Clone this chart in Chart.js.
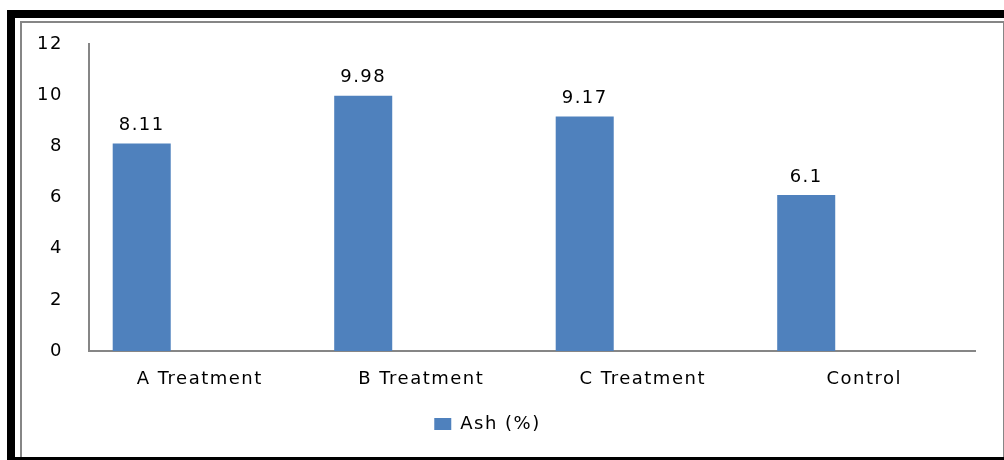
<!DOCTYPE html>
<html>
<head>
<meta charset="utf-8">
<script src="https://cdn.jsdelivr.net/npm/chart.js@4/dist/chart.umd.min.js"></script>
<style>
  html, body { margin: 0; padding: 0; background: #fff; }
  #wrap { width: 1004px; height: 460px; position: relative; }
</style>
</head>
<body>
<div id="wrap"><canvas id="grafica" width="1004" height="460"></canvas></div>
<script>
// datos
const categorias = ['A Treatment', 'B Treatment', 'C Treatment', 'Control'];
const ceniza = [8.11, 9.98, 9.17, 6.1];
const vacia1 = [null, null, null, null];
const vacia2 = [null, null, null, null];
const marcasY = [0, 2, 4, 6, 8, 10, 12];

const azul = '#4F81BD';
const gris = '#868686';
const fuente = { family: 'DejaVu Sans', size: 18 };

function espaciado(chart) {
  chart.ctx.letterSpacing = '1.5px';
}

// marco negro y gris alrededor
const marco = {
  id: 'marco',
  beforeUpdate: espaciado,
  beforeLayout: espaciado,
  beforeDraw(chart) {
    espaciado(chart);
    const ctx = chart.ctx;
    ctx.save();
    ctx.fillStyle = '#000';
    ctx.fillRect(7, 10, 997, 8);
    ctx.fillRect(7, 10, 8, 450);
    ctx.fillRect(7, 457, 997, 3);
    ctx.fillStyle = gris;
    ctx.fillRect(20, 21, 984, 2);
    ctx.fillRect(20, 21, 2, 436);
    ctx.fillRect(1003, 21, 1, 436);
    ctx.restore();
  }
};

// etiquetas encima de cada barra
const etiquetas = {
  id: 'etiquetas',
  afterDatasetsDraw(chart) {
    const ctx = chart.ctx;
    const meta = chart.getDatasetMeta(0);
    ctx.save();
    ctx.font = '18px "DejaVu Sans"';
    ctx.fillStyle = '#000';
    ctx.textAlign = 'center';
    ctx.textBaseline = 'middle';
    meta.data.forEach((bar, i) => {
      ctx.fillText(String(ceniza[i]), bar.x, bar.y - 18);
    });
    ctx.restore();
  }
};

new Chart(document.getElementById('grafica').getContext('2d'), {
  type: 'bar',
  data: {
    labels: categorias,
    datasets: [
      { label: 'Ash (%)', data: ceniza, backgroundColor: azul },
      { label: '', data: vacia1, backgroundColor: 'transparent' },
      { label: '', data: vacia2, backgroundColor: 'transparent' }
    ]
  },
  options: {
    responsive: false,
    animation: false,
    events: [],
    layout: { padding: { top: 44, right: 29, bottom: 17, left: 0 } },
    datasets: { bar: { categoryPercentage: 0.786, barPercentage: 1 } },
    scales: {
      x: {
        grid: { display: false, drawTicks: false },
        border: { display: true, color: gris, width: 2 },
        ticks: { font: fuente, color: '#000', padding: 18, maxRotation: 0 },
        afterFit(scale) { scale.height = 50; }
      },
      y: {
        min: 0,
        max: 12,
        afterBuildTicks(scale) { scale.ticks = marcasY.map(v => ({ value: v })); },
        grid: { display: false, drawTicks: false },
        border: { display: true, color: gris, width: 2 },
        ticks: { font: fuente, color: '#000', padding: 26 },
        afterFit(scale) { scale.width = 89; }
      }
    },
    plugins: {
      tooltip: { enabled: false },
      legend: {
        position: 'bottom',
        labels: {
          font: fuente,
          color: '#000',
          boxWidth: 17,
          boxHeight: 12,
          padding: 14,
          filter: item => item.text !== ''
        }
      }
    }
  },
  plugins: [marco, etiquetas]
});
</script>
</body>
</html>
